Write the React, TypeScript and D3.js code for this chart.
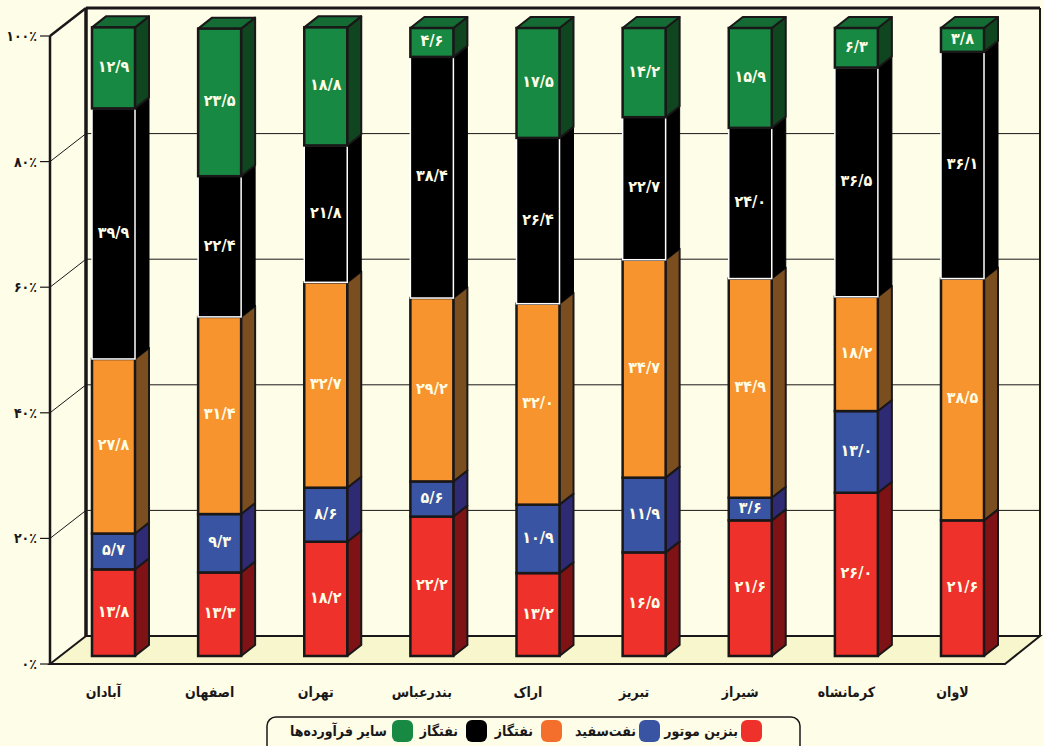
import React from 'react';
import * as d3 from 'd3';

const cities = ['آبادان', 'اصفهان', 'تهران', 'بندرعباس', 'اراک', 'تبریز', 'شیراز', 'کرمانشاه', 'لاوان'];
const gasoline = [13.8, 13.3, 18.2, 22.2, 13.2, 16.5, 21.6, 26.0, 21.6];
const kerosene = [5.7, 9.3, 8.6, 5.6, 10.9, 11.9, 3.6, 13.0, 0];
const gasoilA = [27.8, 31.4, 32.7, 29.2, 32.0, 34.7, 34.9, 18.2, 38.5];
const gasoilB = [39.9, 22.4, 21.8, 38.4, 26.4, 22.7, 24.0, 36.5, 36.1];
const other = [12.9, 23.5, 18.8, 4.6, 17.5, 14.2, 15.9, 6.3, 3.8];

const seriesKeys = ['gasoline', 'kerosene', 'gasoilA', 'gasoilB', 'other'];
const seriesValues: Record<string, number[]> = { gasoline, kerosene, gasoilA, gasoilB, other };
const legendLabels = ['بنزین موتور', 'نفت‌سفید', 'نفتگاز', 'نفتگاز', 'سایر فرآورده‌ها'];
const percentTicks = [0, 20, 40, 60, 80, 100];

const frontColours = ['#EE312A', '#3A54A4', '#F7942D', '#000000', '#178943'];
const sideColours = ['#7E1214', '#2E2A74', '#7A4E1E', '#000000', '#0F451F'];
const legendColours = ['#EE312A', '#3A54A4', '#F36F2B', '#000000', '#178943'];
const legendRight = [762, 660, 562, 487, 413];
const legendTextRight = [738, 636, 533, 458, 387];

const FONT = '"DejaVu Sans Condensed", "DejaVu Sans", sans-serif';
const INK = '#1A1718';

// persian digits
const fa = (s: string) => s.replace(/\d/g, d => '۰۱۲۳۴۵۶۷۸۹'[+d]);

const rows = cities.map((city, i) => {
  const row: Record<string, any> = { city };
  seriesKeys.forEach(k => { row[k] = seriesValues[k][i]; });
  return row;
});
const stacked = d3.stack<any>().keys(seriesKeys)(rows);

// wall depth and bar depth of the fake 3d
const wallDx = 36;
const wallDy = -28;
const barDx = 14;
const barDy = -11;

const axisY = d3.scaleLinear().domain([0, 100]).range([664, 36]);
const barY = d3.scaleLinear().domain([0, 100]).range([656, 28]);
const barX = d3.scalePoint().domain(cities).range([92, 941]);

const App = () => {
  const left = 50;
  const right = 1005;
  const bw = 43;

  const floor = `M${left},${axisY(0)} L${left + wallDx},${axisY(0) + wallDy} L${right + wallDx - 1},${axisY(0) + wallDy} L${right},${axisY(0)} Z`;

  return (
    <svg width={1044} height={746} style={{ position: 'absolute', left: 0, top: 0, background: '#FEFDE8' }}>
      <path d={floor} fill="#F7F6CC" stroke={INK} strokeWidth={2} />

      {/* grid lines, diagonal on the side wall and flat on the back */}
      {percentTicks.map(t => (
        <g key={t}>
          {t > 0 && t < 100 && (
            <polyline
              points={`${left},${axisY(t)} ${left + wallDx},${axisY(t) + wallDy} ${right + wallDx - 1},${axisY(t) + wallDy}`}
              fill="none" stroke={INK} strokeWidth={1}
            />
          )}
          <line x1={40} x2={left} y1={axisY(t)} y2={axisY(t)} stroke={INK} strokeWidth={1.2} />
          <text x={37} y={axisY(t) + 5} textAnchor="end" fontFamily={FONT} fontWeight="bold" fontSize={14} fill={INK}>
            {fa(String(t))}٪
          </text>
        </g>
      ))}

      {/* walls */}
      <line x1={left} x2={left} y1={axisY(100)} y2={axisY(0)} stroke={INK} strokeWidth={2.5} />
      <line x1={left} x2={left + wallDx} y1={axisY(100)} y2={axisY(100) + wallDy} stroke={INK} strokeWidth={2.5} />
      <line x1={left + wallDx} x2={left + wallDx} y1={axisY(100) + wallDy} y2={axisY(0) + wallDy} stroke={INK} strokeWidth={3.5} />
      <line x1={left + wallDx} x2={right + wallDx - 1} y1={axisY(100) + wallDy} y2={axisY(100) + wallDy} stroke={INK} strokeWidth={3} />
      <line x1={right + wallDx - 1} x2={right + wallDx - 1} y1={axisY(100) + wallDy} y2={axisY(0) + wallDy} stroke={INK} strokeWidth={2} />

      {/* bars */}
      {cities.map((c, ci) => {
        const x0 = barX(c) as number;
        return (
          <g key={c}>
            {stacked.map((s, si) => {
              const [v0, v1] = s[ci];
              if (v1 - v0 <= 0) return null;
              const y0 = barY(v0);
              const y1 = barY(v1);
              const isBlack = seriesKeys[si] === 'gasoilB';
              const edge = isBlack ? '#000' : INK;
              const side = `M${x0 + bw},${y1} L${x0 + bw + barDx},${y1 + barDy} L${x0 + bw + barDx},${y0 + barDy} L${x0 + bw},${y0} Z`;
              const top = `M${x0},${y1} L${x0 + barDx},${y1 + barDy} L${x0 + bw + barDx},${y1 + barDy} L${x0 + bw},${y1} Z`;
              return (
                <g key={s.key}>
                  <path d={side} fill={sideColours[si]} stroke={edge} strokeWidth={isBlack ? 1 : 2} strokeLinejoin="round" />
                  {si === seriesKeys.length - 1 && (
                    <path d={top} fill="#146B34" stroke={INK} strokeWidth={2} strokeLinejoin="round" />
                  )}
                  <rect x={x0} y={y1} width={bw} height={y0 - y1} fill={frontColours[si]} stroke={isBlack ? '#fff' : INK} strokeWidth={isBlack ? 1.5 : 2.5} />
                  <text
                    x={x0 + bw / 2}
                    y={(y0 + y1) / 2 + 4}
                    textAnchor="middle"
                    fontFamily={FONT}
                    fontWeight="bold"
                    fontSize={16}
                    fill="#FEFDE8"
                  >
                    {fa((v1 - v0).toFixed(1).replace('.', '/'))}
                  </text>
                </g>
              );
            })}
            <text x={x0 + bw / 2 - 10} y={697} textAnchor="middle" direction="rtl" fontFamily={FONT} fontWeight="bold" fontSize={14} fill={INK}>
              {c}
            </text>
          </g>
        );
      })}

      {/* legend */}
      <rect x={267} y={717} width={533} height={40} rx={9} fill="#FEFDE8" stroke={INK} strokeWidth={1.5} />
      {legendLabels.map((label, i) => (
        <g key={i}>
          <rect x={legendRight[i] - 21} y={720} width={21} height={22} rx={6} fill={legendColours[i]} />
          <text x={legendTextRight[i]} y={736} direction="rtl" textAnchor="start" fontFamily={FONT} fontWeight="bold" fontSize={14} fill={INK}>
            {label}
          </text>
        </g>
      ))}
    </svg>
  );
};

export default App;
